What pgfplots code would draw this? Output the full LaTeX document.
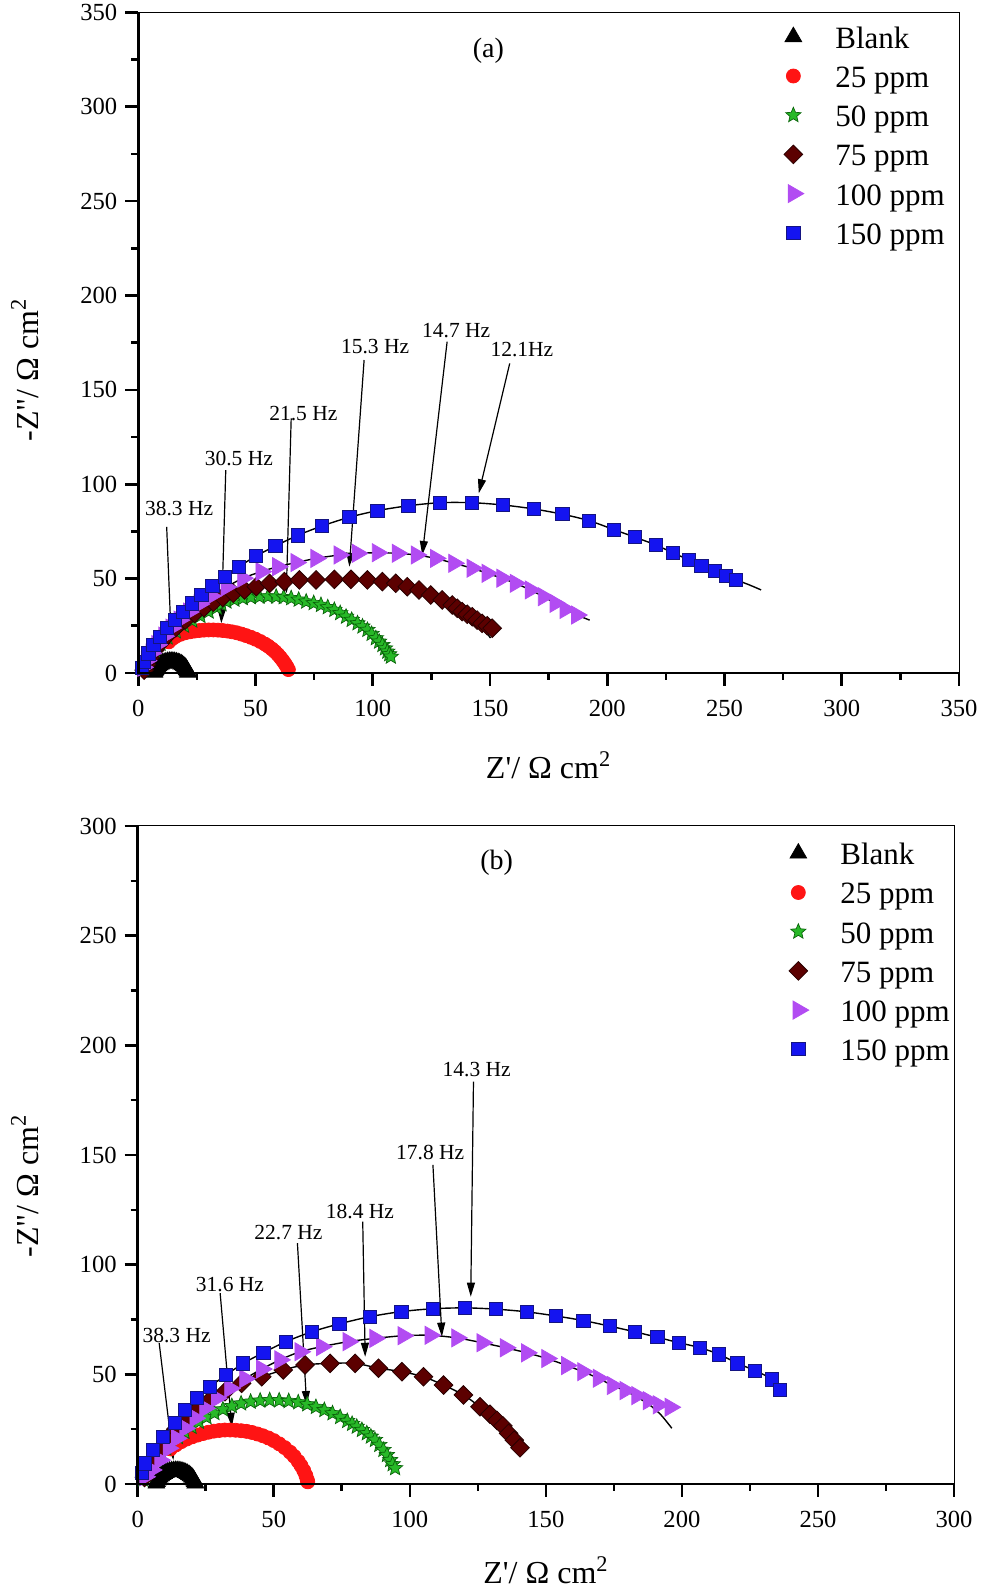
\documentclass[border=0pt]{standalone}
\usepackage{fontspec}
\setmainfont{Liberation Serif}
\usepackage{pgfplots}
\pgfplotsset{compat=1.18}
\usepackage{pgfplotstable}
\usetikzlibrary{arrows.meta}

\definecolor{cblue}{RGB}{20,20,240}
\definecolor{cblueE}{RGB}{20,20,130}
\definecolor{cpurple}{RGB}{178,76,242}
\definecolor{cmaroon}{RGB}{92,0,0}
\definecolor{cmaroonE}{RGB}{40,0,0}
\definecolor{cgreen}{RGB}{40,185,40}
\definecolor{cgreenE}{RGB}{10,100,10}
\definecolor{cred}{RGB}{255,20,20}

\pgfdeclareplotmark{fstar}{%
  \pgfpathmoveto{\pgfpointpolar{90}{\pgfplotmarksize}}%
  \pgfpathlineto{\pgfpointpolar{126}{0.45\pgfplotmarksize}}%
  \pgfpathlineto{\pgfpointpolar{162}{\pgfplotmarksize}}%
  \pgfpathlineto{\pgfpointpolar{198}{0.45\pgfplotmarksize}}%
  \pgfpathlineto{\pgfpointpolar{234}{\pgfplotmarksize}}%
  \pgfpathlineto{\pgfpointpolar{270}{0.45\pgfplotmarksize}}%
  \pgfpathlineto{\pgfpointpolar{306}{\pgfplotmarksize}}%
  \pgfpathlineto{\pgfpointpolar{342}{0.45\pgfplotmarksize}}%
  \pgfpathlineto{\pgfpointpolar{18}{\pgfplotmarksize}}%
  \pgfpathlineto{\pgfpointpolar{54}{0.45\pgfplotmarksize}}%
  \pgfpathclose
  \pgfusepathqfillstroke
}

% ---------------- shared blank data ----------------
\pgfplotstableread{
x y
6.86 0.32
7.06 1.06
7.33 1.77
7.68 2.45
8.09 3.09
8.58 3.69
9.12 4.22
9.71 4.71
10.35 5.12
11.03 5.47
11.74 5.74
12.48 5.94
13.23 6.06
14 6.1
14.77 6.06
15.52 5.94
16.26 5.74
16.97 5.47
17.65 5.12
18.29 4.71
18.88 4.22
19.42 3.69
19.91 3.09
20.32 2.45
20.67 1.77
20.94 1.06
21.14 0.32
}\aBlank
% ---------------- panel (a) data ----------------
\pgfplotstableread{
x y
13 16.5
14.5 18.2
16 19.4
18 20.5
20 21.3
22 21.8
24 22.2
26 22.5
28 22.7
30 22.8
32 22.8
34 22.7
36 22.5
38 22.2
40 21.8
42 21.3
44 20.6
46 19.8
48 18.9
50 17.9
52 16.7
54 15.3
55.5 14.1
57 12.7
58.3 11.3
59.5 9.8
60.6 8.2
61.6 6.6
62.5 5.0
63.3 3.4
64 1.8
}\aA
\pgfplotstableread{
x y
2.5 2
3.5 5
5 8.5
7 12
9.5 15.5
12.5 18.8
16 22
19.5 25
23 27.7
26.5 30.2
30 32.5
33.5 34.6
35.5 36.3
37.6 37.8
41 38.8
44.6 39.6
48 40.1
51.7 40.4
55.3 40.5
58.8 40.4
62 40.1
65.2 39.6
68.4 38.8
71.6 37.8
74.8 37
77.9 36.0
80.8 34.8
83.6 33.4
86.1 31.7
88.6 29.8
91 28.1
93.5 26.3
95.6 24.6
97.7 22.8
99.5 20.7
101.3 18.4
102.7 16.6
104.1 14.8
105.2 13
106.2 11.3
107 9.9
107.7 8.6
}\aB
\pgfplotstableread{
x y
2.5 1.5
3.5 4.5
5 8
7 12
9.5 16
12.5 20
16 24
20 28
24 31.5
28 34.6
32 37.5
36 40
40.5 42.2
45.3 44.0
50.3 45.7
56 47.5
62.3 48.4
68.7 49.3
75.8 49.3
83.6 49.6
90.7 49.6
97.7 49.3
104.1 48.4
109.8 47.5
114.7 45.7
119.7 44.0
124.7 41.3
129.6 38.7
133.9 36.0
136 34.3
138.1 32.5
140.3 31.1
142.4 29.8
144.5 28.0
146.6 26.3
148.8 25.0
150.9 23.7
}\aC
\pgfplotstableread{
x y
2 3
3.5 6.5
5.5 10.5
8 15
11 19.5
14 23.8
17.5 28
21.5 32.3
26 36.5
31 40.8
37.5 45.5
44.6 50.2
52.4 53.7
59.5 56.3
67.3 58.5
75.8 60.7
85.7 62.5
93.5 63.4
102 63.7
110.5 63.4
118.6 62.5
126.8 60.7
134.6 58.1
142.4 55.5
148.8 52.8
155.1 50.2
160.8 47.5
167.2 44.0
172.8 40.4
177.8 36.9
182.1 33.7
187 30.7
}\aD
\pgfplotstableread{
x y
1.5 2.5
2.4 6.0
4.3 10.4
6.4 14.8
9.2 19.2
12.1 23.7
15.6 28.1
19.1 32.5
22.7 36.9
26.9 41.3
31.6 46.1
36.8 51.0
42.9 56.3
50.3 62.0
58.5 67.3
68.0 72.9
78.4 77.9
90.0 82.5
102.0 86.0
115.2 88.6
128.7 90.2
142.2 90.2
155.5 89.0
168.6 86.9
180.9 84.1
192.2 80.7
202.7 76.0
211.9 71.9
220.7 67.8
228.1 63.6
234.8 59.9
240.1 56.7
245.8 54.2
250.7 51.4
255.0 49.3
}\aE

% ---------------- panel (b) data ----------------
\pgfplotstableread{
x y
12 16
14 17.8
16 19.3
18 20.5
20 21.5
22 22.3
24 23
26 23.6
28 24.1
30 24.4
32 24.6
34 24.6
36 24.5
38 24.3
40 24.0
42 23.5
44 22.8
46 22.0
48 21.0
50 19.8
52 18.3
54 16.6
56 14.5
57.5 12.6
59 10.3
60 8.4
61 6.2
61.8 3.9
62.3 1.9
62.5 1.0
}\bA
\pgfplotstableread{
x y
2 2
3 4
4.2 6.5
5.5 8.7
7 11.2
8.7 13.8
10.5 16.3
12.5 18.8
14.8 21.3
17.2 23.7
19.8 26
22.5 28.3
25.3 30.4
28.2 32.3
31.3 34
34.6 35.5
38 36.7
41.5 37.5
45 38
48.5 38.2
52 38.1
55.5 37.8
59 37.2
62.3 36.3
65.5 35.1
68.6 33.7
71.6 32.2
74.4 30.5
77 28.7
78.8 27.4
80.5 26.1
82.4 24.6
84.2 23.1
85.7 21.6
87.2 20.1
88.8 17.8
90.3 15.5
91.6 13.2
92.8 10.9
93.7 9.0
94.6 7.2
}\bB
\pgfplotstableread{
x y
2.5 3
4 7
6 11.5
8.5 16
11 20.5
14 25
17.4 29.2
21.7 33.7
26.6 38.3
32.1 42.1
38.2 45.9
45.6 48.9
53.5 52.0
61.5 54.3
70.7 55.0
79.9 55.0
88.5 52.8
97.1 51.2
105.0 48.9
112.4 45.1
119.7 40.6
125.8 35.2
129.5 31.8
132.0 29.0
134.2 26.5
136.3 23.1
138.4 20.0
140.5 16.5
}\bC
\pgfplotstableread{
x y
2.7 3.3
5.1 6.4
8.2 10.9
11.3 16.3
14.3 20.8
17.4 25.4
21.1 30.0
24.7 34.5
29.0 39.1
33.9 43.6
39.4 48.0
45.6 52.4
52.3 56.6
59.7 60.3
67.6 62.6
77.4 64.9
87.2 66.4
97.6 67.6
107.5 67.8
117.3 66.6
126.6 64.4
135.2 62.1
143.0 59.8
150.4 57.2
157.7 54.0
163.6 51.2
169.3 48.2
174.5 44.9
179.2 42.6
183.5 40.3
187.7 38.0
191.4 36.1
195.7 35.0
}\bD
\pgfplotstableread{
x y
1.5 4.9
2.7 9.4
5.7 15.5
9.4 21.6
13.7 27.7
17.4 33.7
21.7 39.1
26.6 44.4
32.5 49.7
38.8 55.0
46.2 59.9
54.5 64.9
64.0 69.4
74.1 73.0
85.4 76.3
96.9 78.6
108.4 79.9
120.3 80.3
131.7 79.7
142.9 78.5
153.7 76.6
163.8 74.5
173.4 72.0
182.6 69.4
191.0 66.9
198.9 64.4
206.5 62.2
213.7 59.1
220.4 55.0
226.9 51.7
233.1 47.7
236.1 42.9
}\bE

\tikzset{
  anno/.style={font=\fontsize{10.75}{12}\selectfont, inner sep=0pt},
  arr/.style={line width=0.6pt, -{Triangle[length=7pt,width=4pt]}},
}
\pgfplotsset{
  eisaxis/.style={
    scale only axis, xmin=0, ymin=0,
    tick align=outside, xtick pos=left, ytick pos=left,
    minor x tick num=1, minor y tick num=1,
    major tick length=6.5pt, minor tick length=3.5pt,
    tick style={black, line width=1.3pt},
    axis line style={line width=0.5pt},
    tick label style={font=\fontsize{12.3}{14}\selectfont},
    xticklabel style={yshift=-3.5pt},
    yticklabel style={xshift=-0.5pt},
    /pgf/number format/assume math mode=true,
    legend cell align=left,
    legend style={draw=none, fill=none, inner sep=0pt, row sep=3.1pt,
      font=\fontsize{15.5}{17}\selectfont,
      nodes={inner sep=1pt, text height=11pt, text depth=3.5pt}},
    legend image code/.code={\path[draw=none, fill=none] (0pt,0pt) (30pt,0pt);
      \draw[##1, mark repeat=2, mark phase=2] plot coordinates {(0pt,2pt) (10pt,2pt) (20pt,2pt)};},
    after end axis/.code={\draw[line width=1.3pt] (rel axis cs:0,1) -- (rel axis cs:0,0) -- (rel axis cs:1,0);},
  },
  sBlank/.style={only marks, mark=triangle*, mark size=4.8pt, mark options={fill=black, draw=black}},
  sA/.style={only marks, mark=*, mark size=3.5pt, mark options={fill=cred, draw=cred}},
  sB/.style={only marks, mark=fstar, mark size=4pt, mark options={fill=cgreen, draw=cgreenE, line width=0.35pt}},
  sC/.style={only marks, mark=square*, mark size=3.3pt, mark options={rotate=45, fill=cmaroon, draw=cmaroonE, line width=0.4pt}},
  sD/.style={only marks, mark=triangle*, mark size=5.2pt, mark options={rotate=-90, fill=cpurple, draw=cpurple}},
  sE/.style={only marks, mark=square*, mark size=3.3pt, mark options={fill=cblue, draw=cblueE, line width=0.4pt}},
  fitl/.style={black, line width=0.7pt, smooth, no markers, forget plot},
}

\begin{document}
\begin{tikzpicture}
\path[use as bounding box] (0,0) rectangle (490pt,794pt);

% ================= (a) =================
\begin{axis}[eisaxis, at={(69.15pt,457.5pt)}, anchor=south west,
  width=410.35pt, height=330.35pt, xmax=350, ymax=350,
  xtick={0,50,...,350}, ytick={0,50,...,350},
  legend style={at={(0.7733,0.9824)}, anchor=north west}]
\addplot[sBlank] table {\aBlank}; \addlegendentry{Blank}
\addplot[sA] table {\aA}; \addlegendentry{25 ppm}
\addplot[sB] table {\aB}; \addlegendentry{50 ppm}
\addplot[sC] table {\aC}; \addlegendentry{75 ppm}
\addplot[sD] table {\aD}; \addlegendentry{100 ppm}
\addplot[sE] table {\aE}; \addlegendentry{150 ppm}
\addplot[fitl] table {\aA};
\addplot[fitl] table {\aB};
\addplot[fitl, restrict x to domain=0:143] table {\aC};
\addplot[fitl] coordinates {(142.4,29.8) (146.5,24.6) (150.2,18.5)};
\addplot[fitl] table {\aD};
\addplot[fitl] coordinates {(187,30.7) (192.5,28)};
\addplot[fitl] table {\aE};
\addplot[fitl] coordinates {(255.0,49.3) (260.5,46.7) (265.6,44.0)};
\node[font=\fontsize{14}{16}\selectfont] at (axis cs:149.3,329.6) {(a)};
\node[anno] at (axis cs:17.4,87.2) {38.3 Hz};
\draw[arr] (axis cs:12.1,77.4) -- (axis cs:14.2,13.1);
\node[anno] at (axis cs:42.9,113.7) {30.5 Hz};
\draw[arr] (axis cs:37.3,107.5) -- (axis cs:35.4,26.3);
\node[anno] at (axis cs:70.4,137.6) {21.5 Hz};
\draw[arr] (axis cs:65.2,134.9) -- (axis cs:63.1,42.2);
\node[anno] at (axis cs:101.0,172.9) {15.3 Hz};
\draw[arr] (axis cs:96.3,165.8) -- (axis cs:90.0,56.3);
\node[anno] at (axis cs:135.6,181.4) {14.7 Hz};
\draw[arr] (axis cs:131.7,175.5) -- (axis cs:121.1,62.5);
\node[anno] at (axis cs:163.6,171.6) {12.1Hz};
\draw[arr] (axis cs:158.4,164.0) -- (axis cs:145.2,95.2);
\end{axis}

% ================= (b) =================
\begin{axis}[eisaxis, at={(68.85pt,52pt)}, anchor=south west,
  width=408.15pt, height=329pt, xmax=300, ymax=300,
  xtick={0,50,...,300}, ytick={0,50,...,300},
  legend style={at={(0.7843,0.9781)}, anchor=north west}]
\addplot[sBlank] table {\aBlank}; \addlegendentry{Blank}
\addplot[sA] table {\bA}; \addlegendentry{25 ppm}
\addplot[sB] table {\bB}; \addlegendentry{50 ppm}
\addplot[sC] table {\bC}; \addlegendentry{75 ppm}
\addplot[sD] table {\bD}; \addlegendentry{100 ppm}
\addplot[sE] table {\bE}; \addlegendentry{150 ppm}
\addplot[fitl] table {\bA};
\addplot[fitl] table {\bB};
\addplot[fitl] table {\bC};
\addplot[fitl, restrict x to domain=0:180] table {\bD};
\addplot[fitl] coordinates {(179.2,42.6) (183.5,39.6) (188,36.2) (192.3,31.5) (196.3,25.4)};
\addplot[fitl] table {\bE};
\addplot[fitl] coordinates {(236.1,42.9) (238,40.6)};
\node[font=\fontsize{14}{16}\selectfont] at (axis cs:131.9,283.4) {(b)};
\node[anno] at (axis cs:124.6,188.8) {14.3 Hz};
\draw[arr] (axis cs:123.4,183.4) -- (axis cs:122.4,85.4);
\node[anno] at (axis cs:107.5,151.1) {17.8 Hz};
\draw[arr] (axis cs:108.5,145.5) -- (axis cs:111.8,67.2);
\node[anno] at (axis cs:81.7,124.2) {18.4 Hz};
\draw[arr] (axis cs:82.7,119.6) -- (axis cs:83.6,58.0);
\node[anno] at (axis cs:55.4,114.6) {22.7 Hz};
\draw[arr] (axis cs:58.7,109.8) -- (axis cs:62.1,36.0);
\node[anno] at (axis cs:33.9,91.1) {31.6 Hz};
\draw[arr] (axis cs:30.3,87.0) -- (axis cs:34.6,26.1);
\node[anno] at (axis cs:14.3,67.9) {38.3 Hz};
\draw[arr] (axis cs:7.9,64.2) -- (axis cs:13.1,10.9);
\end{axis}

% axis titles
\node[anchor=base, font=\fontsize{16}{18}\selectfont] at (274.3pt,404.5pt) {Z\textquotesingle/ Ω cm\textsuperscript{2}};
\node[anchor=base, font=\fontsize{16}{18}\selectfont] at (273pt,2pt) {Z\textquotesingle/ Ω cm\textsuperscript{2}};
\node[rotate=90, font=\fontsize{16}{18}\selectfont] at (12.5pt,609pt) {-Z\textquotedbl/ Ω cm\textsuperscript{2}};
\node[rotate=90, font=\fontsize{16}{18}\selectfont] at (12.5pt,201pt) {-Z\textquotedbl/ Ω cm\textsuperscript{2}};
\end{tikzpicture}
\end{document}
